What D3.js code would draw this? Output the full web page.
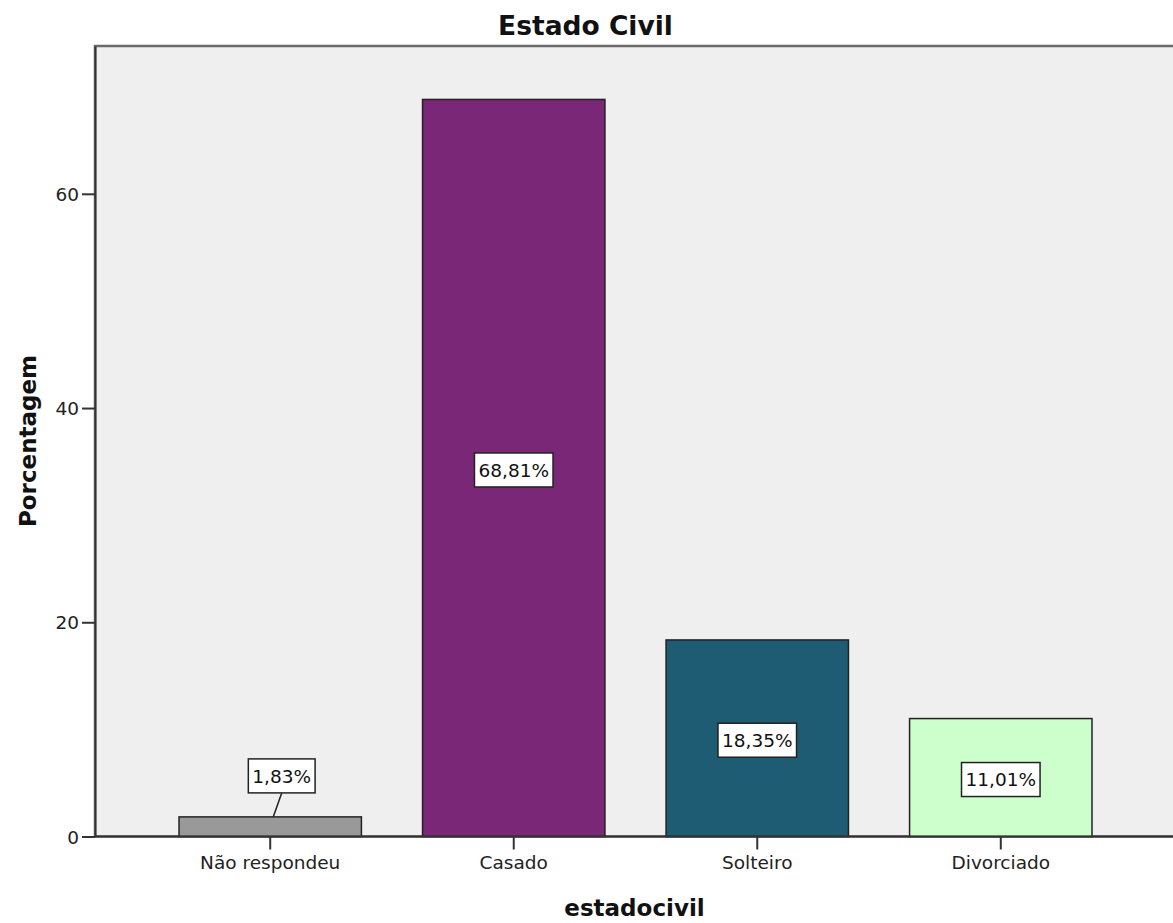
<!DOCTYPE html>
<html>
<head>
<meta charset="utf-8">
<script src="https://cdn.jsdelivr.net/npm/d3@7"></script>
<style>
  html, body { margin: 0; padding: 0; background: #fff; }
  svg { display: block; font-family: "DejaVu Sans", Verdana, sans-serif; }
</style>
</head>
<body>
<svg id="chart" width="1173" height="923"></svg>
<script>
// Estado civil: percentual de respondentes por categoria
const categories = ["Não respondeu", "Casado", "Solteiro", "Divorciado"];
const percentages = [1.83, 68.81, 18.35, 11.01];
const barColors = ["#999999", "#7b2777", "#1d5c73", "#ccffcc"];
const yTicks = [0, 20, 40, 60];

const FONT = "\"DejaVu Sans\", Verdana, sans-serif";
const svg = d3.select("#chart");
const plotLeft = 95, plotRight = 1176, plotTop = 46, plotBottom = 836.5;

const x = d3.scaleBand()
  .domain(categories)
  .range([plotLeft, plotRight])
  .paddingInner(0.251)
  .paddingOuter(0.345);

const y = d3.scaleLinear()
  .domain([0, 73.8])
  .range([plotBottom, plotTop]);

// plot background and frame
svg.append("rect")
  .attr("x", plotLeft).attr("y", plotTop)
  .attr("width", plotRight - plotLeft).attr("height", plotBottom - plotTop)
  .attr("fill", "#efefef")
  .attr("stroke", "#6a6a6a").attr("stroke-width", 2.5);

// bars
svg.append("g").selectAll("rect")
  .data(categories)
  .join("rect")
  .attr("x", d => x(d))
  .attr("y", (d, i) => y(percentages[i]))
  .attr("width", x.bandwidth())
  .attr("height", (d, i) => y(0) - y(percentages[i]))
  .attr("fill", (d, i) => barColors[i])
  .attr("stroke", "#222")
  .attr("stroke-width", 1.5);

// y axis
const yAxis = svg.append("g")
  .attr("transform", `translate(${plotLeft},0)`)
  .call(d3.axisLeft(y).tickValues(yTicks).tickSize(13).tickSizeOuter(0)
    .tickPadding(3).tickFormat(d3.format("d")));
yAxis.select(".domain").attr("stroke", "#333").attr("stroke-width", 2);
yAxis.selectAll(".tick line").attr("stroke", "#333").attr("stroke-width", 2);
yAxis.selectAll(".tick text")
  .attr("font-size", 18.5).attr("fill", "#222").attr("font-family", FONT)
  .attr("dy", "0.36em");

// x axis
const xAxis = svg.append("g")
  .attr("transform", `translate(0,${plotBottom})`)
  .call(d3.axisBottom(x).tickSize(13).tickSizeOuter(0));
xAxis.select(".domain").attr("stroke", "#333").attr("stroke-width", 2)
  .attr("d", `M${plotLeft},0H${plotRight}`);
xAxis.selectAll(".tick line").attr("stroke", "#333").attr("stroke-width", 2);
xAxis.selectAll(".tick text")
  .attr("font-size", 18.5).attr("fill", "#222").attr("font-family", FONT)
  .attr("y", 32.5).attr("dy", 0);

// value labels
const fmt = v => d3.format(".2f")(v).replace(".", ",") + "%";
const labels = svg.append("g");
categories.forEach((c, i) => {
  const v = percentages[i];
  const cx = x(c) + x.bandwidth() / 2;
  const small = y(0) - y(v) < 45;
  let lx = cx, ly = y(v / 2) + 2;
  if (small) {
    // label placed above a short bar, joined by a leader line
    lx = cx + 11.5;
    ly = y(v) - 41;
    labels.append("line")
      .attr("x1", cx + 3).attr("y1", y(v))
      .attr("x2", cx + 11.5).attr("y2", ly + 17)
      .attr("stroke", "#222").attr("stroke-width", 1.5);
  }
  const g = labels.append("g").attr("transform", `translate(${lx},${ly})`);
  const t = g.append("text")
    .attr("text-anchor", "middle")
    .attr("dy", "0.36em")
    .attr("font-size", 18.5)
    .attr("fill", "#111")
    .text(fmt(v));
  const w = t.node().getComputedTextLength() + 8;
  g.insert("rect", "text")
    .attr("x", -w / 2).attr("y", -17)
    .attr("width", w).attr("height", 34)
    .attr("fill", "#fff")
    .attr("stroke", "#222").attr("stroke-width", 1.5);
});

// titles
svg.append("text")
  .attr("x", 585.5).attr("y", 35)
  .attr("text-anchor", "middle")
  .attr("font-size", 26.5).attr("font-weight", "bold").attr("fill", "#111")
  .text("Estado Civil");

svg.append("text")
  .attr("x", 634.5).attr("y", 916)
  .attr("text-anchor", "middle")
  .attr("font-size", 23).attr("font-weight", "bold").attr("fill", "#111")
  .text("estadocivil");

svg.append("text")
  .attr("transform", "translate(36,441) rotate(-90)")
  .attr("text-anchor", "middle")
  .attr("font-size", 23).attr("font-weight", "bold").attr("fill", "#111")
  .text("Porcentagem");
</script>
</body>
</html>
